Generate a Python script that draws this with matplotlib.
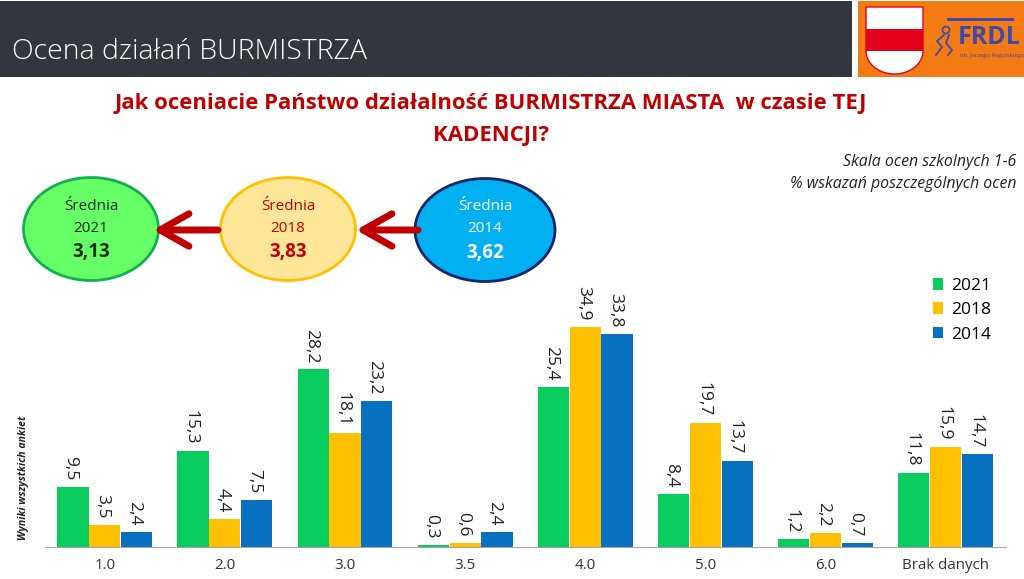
import matplotlib
matplotlib.use("Agg")
import numpy as np
import matplotlib.pyplot as plt
from matplotlib.patches import Ellipse, Rectangle, FancyArrowPatch, Polygon, Circle

plt.rcParams['font.family'] = ['Open Sans', 'DejaVu Sans']

# chart data
categories = ["1.0", "2.0", "3.0", "3.5", "4.0", "5.0", "6.0", "Brak danych"]
years = ["2021", "2018", "2014"]
values_2021 = [9.5, 15.3, 28.2, 0.3, 25.4, 8.4, 1.2, 11.8]
values_2018 = [3.5, 4.4, 18.1, 0.6, 34.9, 19.7, 2.2, 15.9]
values_2014 = [2.4, 7.5, 23.2, 2.4, 33.8, 13.7, 0.7, 14.7]
averages = ["3,13", "3,83", "3,62"]

GREEN = "#08cc5e"
YELLOW = "#ffc000"
BLUE = "#0870c0"

W, H = 1024, 579
fig = plt.figure(figsize=(W / 100, H / 100), dpi=100, facecolor="white")

# full figure layer in pixel coordinates for the slide decoration
bg = fig.add_axes([0, 0, 1, 1])
bg.set_xlim(0, W)
bg.set_ylim(H, 0)
bg.axis("off")

# header band
bg.add_patch(Rectangle((0, 1), 852, 76, fc="#32373e", ec="none"))
bg.text(12, 52, "Ocena działań BURMISTRZA", color="white", fontsize=20.5,
        fontweight="light", va="center", ha="left")

# logo box
bg.add_patch(Rectangle((858, 1), 166, 76, fc="#f47a14", ec="none"))
t = np.linspace(0, np.pi, 30)
shield = [(866, 7), (923, 7)] + list(zip(894.5 + 28.5 * np.cos(t), 51 + 23 * np.sin(t)))
bg.add_patch(Polygon(shield, fc="white", ec="#e2001a", lw=1))
bg.add_patch(Rectangle((866, 29), 57, 22, fc="#e2001a", ec="none"))
bg.add_patch(Rectangle((947, 18), 67, 3, fc="#3f4aa8", ec="none"))
bg.text(958, 37, "FRDL", color="#3f4aa8", fontsize=18, fontweight="bold", va="center", ha="left")
bg.text(960, 55, "im. Jerzego Regulskiego", color="#3f4aa8", fontsize=4.2, va="center", ha="left")
bg.add_patch(Circle((946, 30), 3.5, fc="none", ec="#3f4aa8", lw=1.2))
bg.plot([944, 937, 942, 936], [35, 41, 47, 55], color="#3f4aa8", lw=1.3)
bg.plot([949, 946, 952, 948], [35, 43, 50, 55], color="#3f4aa8", lw=1.3)

# question
bg.text(491, 103, "Jak oceniacie Państwo działalność BURMISTRZA MIASTA  w czasie TEJ",
        color="#c00000", fontsize=15.9, fontweight="bold", ha="center", va="center")
bg.text(491, 135, "KADENCJI?", color="#c00000", fontsize=15.9, fontweight="bold", ha="center", va="center")

# note top right
bg.text(1016, 162, "Skala ocen szkolnych 1-6", fontsize=11.4, style="italic", color="#222222",
        ha="right", va="center")
bg.text(1016, 184, "% wskazań poszczególnych ocen", fontsize=11.4, style="italic", color="#222222",
        ha="right", va="center")

# arrows between the averages
for x0, x1 in [(218, 153), (418, 356)]:
    bg.add_patch(FancyArrowPatch((x0, 230), (x1, 230), arrowstyle="->,head_length=8,head_width=4.5",
                                 mutation_scale=2.6, color="#c00000", lw=5, capstyle="round",
                                 shrinkA=0, shrinkB=0, zorder=5))

# average ellipses
circles = [(91, 229, 135, 103, "#66ff66", "#10b050", "#1a2e1a"),
           (288, 229, 135, 103, "#ffe699", "#ffc000", "#c00000"),
           (485, 230, 140, 103, "#00b0f0", "#10256e", "white")]
for (cx, cy, w, h, fc, ec, tc), year, avg in zip(circles, years, averages):
    bg.add_patch(Ellipse((cx, cy), w, h, fc=fc, ec=ec, lw=2, zorder=3))
    bg.text(cx, cy - 23, "Średnia", color=tc, fontsize=11, ha="center", va="center", zorder=4)
    bg.text(cx, cy - 1, year, color=tc, fontsize=11, ha="center", va="center", zorder=4)
    bg.text(cx, cy + 23, avg, color=tc, fontsize=13.5, fontweight="bold", ha="center", va="center", zorder=4)

# bar chart
ax = fig.add_axes([44.7 / W, 1 - 547 / H, 961 / W, 300 / H])
ax.patch.set_alpha(0)
x = np.arange(len(categories))
bar_w = 0.265
ax.bar(x - bar_w, values_2021, bar_w * 0.98, color=GREEN, label=years[0])
ax.bar(x, values_2018, bar_w * 0.98, color=YELLOW, label=years[1])
ax.bar(x + bar_w, values_2014, bar_w * 0.98, color=BLUE, label=years[2])

for offset, series in [(-bar_w, values_2021), (0, values_2018), (bar_w, values_2014)]:
    for xi, v in zip(x, series):
        ax.text(xi + offset - 0.02, v + 1.0, f"{v:.1f}".replace(".", ","), rotation=-90, fontsize=12.5,
                ha="center", va="bottom", color="#222222")

ax.set_xlim(-0.5, len(categories) - 0.5)
ax.set_ylim(0, 300 / 6.3)
ax.set_xticks(x, categories, fontsize=10.8, color="#333333")
ax.set_yticks([])
ax.tick_params(axis="x", length=0, pad=8)
for side in ["top", "left", "right"]:
    ax.spines[side].set_visible(False)
ax.spines["bottom"].set_color("#a6a6a6")

ax.legend(loc="upper right", frameon=False, fontsize=12.5, handlelength=0.58, handleheight=0.65,
          labelspacing=0.48, handletextpad=0.5, bbox_to_anchor=(0.9925, 0.92), borderaxespad=0)

bg.text(24, 478, "Wyniki wszystkich ankiet", rotation=90, fontsize=7.6, fontweight="bold",
        style="italic", ha="center", va="center", color="#222222")

fig.savefig("out.png", dpi=100)
